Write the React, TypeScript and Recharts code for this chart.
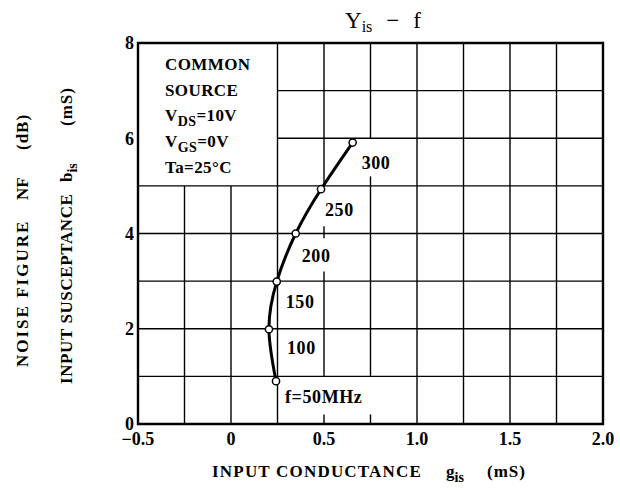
import React from 'react';
import { LineChart, Line, XAxis, YAxis, ReferenceLine, ReferenceArea, LabelList } from 'recharts';

// Y_is - f
const FREQ_LABELS = ['f=50MHz', '100', '150', '200', '250', '300'];
const G_IS = [0.242, 0.204, 0.246, 0.348, 0.484, 0.654]; // mS
const B_IS = [0.9, 1.99, 2.99, 4.0, 4.93, 5.91]; // mS

const X_TICKS = [-0.5, 0, 0.5, 1.0, 1.5, 2.0];
const Y_TICKS = [0, 2, 4, 6, 8];
const X_GRID = [-0.25, 0, 0.25, 0.5, 0.75, 1.0, 1.25, 1.5, 1.75];
const Y_GRID = [1, 2, 3, 4, 5, 6, 7];

const FONT = '"Liberation Serif", "DejaVu Serif", serif';

const data = G_IS.map((g, i) => ({ g, b: B_IS[i], f: FREQ_LABELS[i] }));

// where each frequency label sits relative to its point (px)
const LABEL_SHIFT = [
  [9, 16],
  [18, 19],
  [9, 20],
  [6, 22],
  [4, 21],
  [9, 20],
];

// vertical grid pieces; the legend box and curve labels leave gaps in the grid
const vSegments = (x: number): [number, number][] => {
  if (x < 0.25) return [[0, 5]];
  if (x === 0.5) return [[5, 8], [3.9, 4.15], [1, 3.2], [0, 0.2]];
  if (x === 0.75) return [[6, 8], [1, 5.2], [0, 0.2]];
  return [[0, 8]];
};
const hSegment = (y: number): [number, number] => (y > 5 ? [0.25, 2] : [-0.5, 2]);

const FreqLabel = (props: any) => {
  const { x, y, index, value } = props;
  const [dx, dy] = LABEL_SHIFT[index];
  return (
    <text
      x={x + dx}
      y={y + dy}
      dominantBaseline="central"
      fontFamily={FONT}
      fontWeight="bold"
      fontSize={18}
      letterSpacing={0.6}
      fill="#000"
    >
      {value}
    </text>
  );
};

const fmt = (v: number) => (v === 0 ? '0' : v < 0 ? '\u2212' + Math.abs(v).toFixed(1) : v.toFixed(1));

const Sub = ({ children }: { children: React.ReactNode }) => (
  <tspan fontSize={14} dy={5}>{children}</tspan>
);

// text running bottom-to-top, starting at (x, y)
const Up = ({ x, y, children, ...rest }: any) => (
  <text x={x} y={y} transform={`rotate(-90 ${x} ${y})`} {...rest}>
    {children}
  </text>
);

export default function App() {
  const tickStyle = { fontFamily: FONT, fontWeight: 'bold', fontSize: 18, fill: '#000' };
  return (
    <div style={{ position: 'absolute', left: 0, top: 0, width: 620, height: 490, background: '#fff' }}>
      <LineChart width={620} height={490} data={data} margin={{ top: 43, right: 17, bottom: 0, left: 0 }}>
        <XAxis
          dataKey="g"
          type="number"
          domain={[-0.5, 2]}
          ticks={X_TICKS}
          tickFormatter={fmt}
          height={66}
          tickLine={false}
          axisLine={false}
          tickSize={0}
          tickMargin={8}
          tick={tickStyle}
          interval={0}
        />
        <YAxis
          dataKey="b"
          type="number"
          domain={[0, 8]}
          ticks={Y_TICKS}
          width={138}
          tickLine={false}
          axisLine={false}
          tickSize={0}
          tickMargin={4}
          tick={tickStyle}
          interval={0}
        />
        {X_GRID.flatMap((x) =>
          vSegments(x).map(([y0, y1], j) => (
            <ReferenceLine key={`v${x}-${j}`} segment={[{ x, y: y0 }, { x, y: y1 }]} stroke="#000" strokeWidth={1.4} />
          ))
        )}
        {Y_GRID.map((y) => {
          const [x0, x1] = hSegment(y);
          return <ReferenceLine key={`h${y}`} segment={[{ x: x0, y }, { x: x1, y }]} stroke="#000" strokeWidth={1.4} />;
        })}
        <ReferenceArea x1={-0.5} x2={2} y1={0} y2={8} fill="none" stroke="#000" strokeWidth={2.4} />
        <Line
          dataKey="b"
          type="natural"
          stroke="#000"
          strokeWidth={3}
          dot={{ r: 3.6, fill: '#fff', stroke: '#000', strokeWidth: 1.5 }}
          isAnimationActive={false}
        >
          <LabelList dataKey="f" content={FreqLabel} />
        </Line>
      </LineChart>
      <svg width={620} height={490} style={{ position: 'absolute', left: 0, top: 0, pointerEvents: 'none' }}>
        <g fontFamily={FONT} fill="#000">
          <text x={345} y={28} fontSize={23}>
            Y<tspan fontSize={16} dy={4}>is</tspan>
            <tspan dy={-4} dx={14}>{'\u2212'}</tspan>
            <tspan dx={14}>f</tspan>
          </text>
          <g fontWeight="bold" fontSize={17} letterSpacing={0.4}>
            <text x={165} y={70}>COMMON</text>
            <text x={165} y={96}>SOURCE</text>
            <text x={165} y={121}>
              V<Sub>DS</Sub>
              <tspan dy={-5}>=10V</tspan>
            </text>
            <text x={165} y={147}>
              V<Sub>GS</Sub>
              <tspan dy={-5}>=0V</tspan>
            </text>
            <text x={165} y={173}>Ta=25°C</text>
          </g>
          <g fontWeight="bold" fontSize={17}>
            <text x={212} y={477} letterSpacing={1.2}>INPUT CONDUCTANCE</text>
            <text x={446} y={477}>
              g<Sub>is</Sub>
            </text>
            <text x={487} y={477} letterSpacing={1}>(mS)</text>
            <Up x={28} y={367} letterSpacing={2}>NOISE FIGURE</Up>
            <Up x={28} y={200}>NF</Up>
            <Up x={28} y={150} letterSpacing={1}>(dB)</Up>
            <Up x={72} y={384} letterSpacing={0.6}>INPUT SUSCEPTANCE</Up>
            <Up x={72} y={182}>
              b<Sub>is</Sub>
            </Up>
            <Up x={72} y={126} letterSpacing={1}>(mS)</Up>
          </g>
        </g>
      </svg>
    </div>
  );
}
